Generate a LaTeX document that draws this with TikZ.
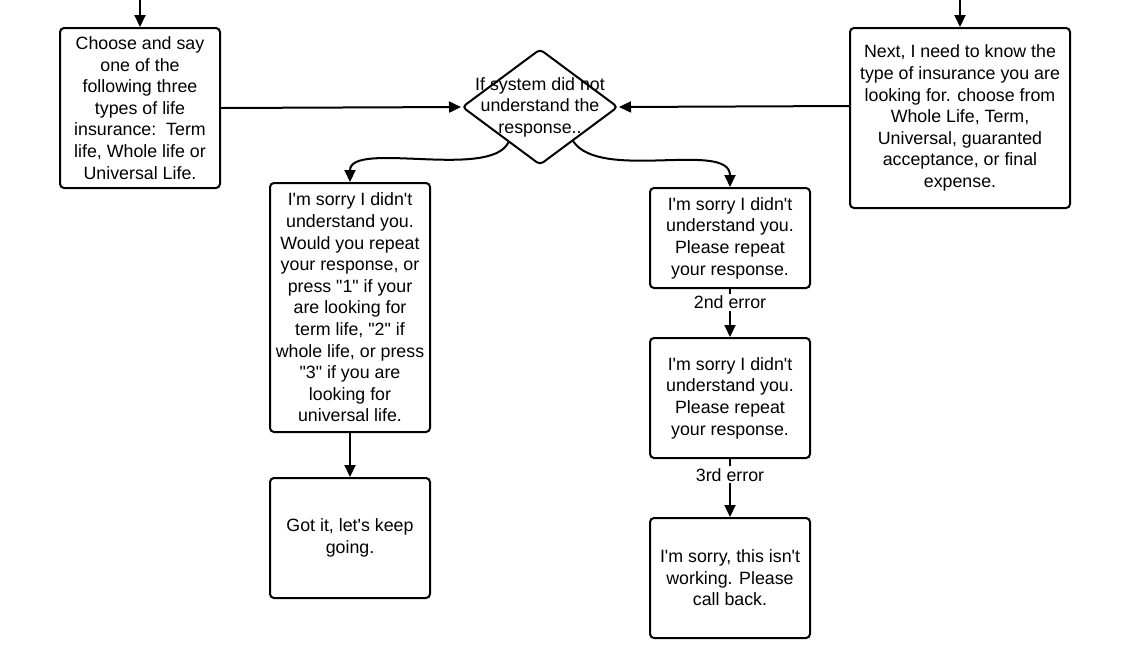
\documentclass[tikz,border=0pt]{standalone}
\usepackage{fontspec}
\setmainfont{Liberation Sans}[Ligatures=TeXOff]
\usetikzlibrary{shapes.geometric,arrows.meta,calc}
\begin{document}
\begin{tikzpicture}[x=1pt,y=-1pt,
  every node/.style={font=\fontsize{17.8}{21.6}\selectfont, align=center},
  box/.style={draw, line width=2pt, rounded corners=4pt, inner sep=2pt},
  conn/.style={line width=2pt, -{Triangle[length=12pt,width=11pt]}},
  lbl/.style={fill=white, inner sep=2pt}]
\useasboundingbox (0,0) rectangle (1126,649);
\node[box, minimum width=160pt, minimum height=160pt] (lb) at (140,108) {Choose and say\\one of the\\following three\\types of life\\insurance:\ \ Term\\life, Whole life or\\Universal Life.};
\node[box, minimum width=220pt, minimum height=180pt] (rb) at (960,118) {Next, I need to know the\\type of insurance you are\\looking for. choose from\\Whole Life, Term,\\Universal, guaranted\\acceptance, or final\\expense.};
\node[draw, diamond, line width=2pt, rounded corners=4pt, minimum width=156pt, minimum height=116pt, inner sep=0pt] (dia) at (540,107) {};
\node at (540,107) {If system did not\\understand the\\response..};
\node[box, minimum width=160pt, minimum height=249pt] (a) at (350,307.5) {I'm sorry I didn't\\understand you.\\Would you repeat\\your response, or\\press "1" if your\\are looking for\\term life, "2" if\\whole life, or press\\"3" if you are\\looking for\\universal life.};
\node[box, minimum width=160pt, minimum height=120pt] (b) at (350,538) {Got it, let's keep\\going.};
\node[box, minimum width=160pt, minimum height=100pt] (c) at (730,238) {I'm sorry I didn't\\understand you.\\Please repeat\\your response.};
\node[box, minimum width=160pt, minimum height=120pt] (d) at (730,398) {I'm sorry I didn't\\understand you.\\Please repeat\\your response.};
\node[box, minimum width=160pt, minimum height=120pt] (e) at (730,578) {I'm sorry, this isn't\\working. Please\\call back.};
\coordinate (lt) at (140,0);
\coordinate (rt) at (960,0);
\draw[conn] (lt) -- (lb.north);
\draw[conn] (rt) -- (rb.north);
\draw[conn] (lb.east) -- (dia.west);
\draw[conn] (rb.west |- 0,106) -- (dia.east);
\coordinate (s1) at ($(dia.south)!0.4!(dia.west)$);
\coordinate (s2) at ($(dia.south)!0.42!(dia.east)$);
\draw[conn] (s1) .. controls (490,180) and (350,140) .. (a.north);
\draw[conn] (s2) .. controls (600,182) and (730,140) .. (c.north);
\draw[conn] (a.south) -- (b.north);
\draw[conn] (c.south) -- node[lbl, pos=0.28] {2nd error} (d.north);
\draw[conn] (d.south) -- node[lbl, pos=0.27] {3rd error} (e.north);
\end{tikzpicture}
\end{document}
